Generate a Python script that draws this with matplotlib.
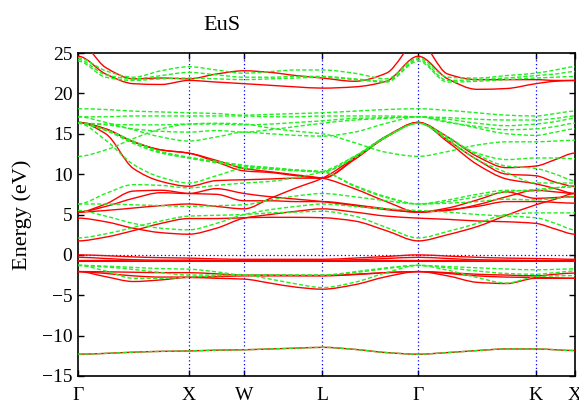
import numpy as np
import matplotlib
matplotlib.use("Agg")
import matplotlib.pyplot as plt
from matplotlib.path import Path
from matplotlib.patches import PathPatch

# High-symmetry path of the fcc Brillouin zone, distances in units of 2*pi/a
sym_labels = ["Γ", "X", "W", "L", "Γ", "K", "X"]
sym_k = [0.0, 1.0, 1.5, 2.207, 3.073, 4.134, 4.488]

# k-points at which the bands are tabulated
k = [0.0, 0.25, 0.5, 0.75, 1.0, 1.25, 1.5, 1.736, 1.971, 2.207,
     2.496, 2.784, 3.073, 3.338, 3.604, 3.869, 4.134, 4.311, 4.488]

# Spin-up bands (eV)
up_s = [-12.3, -12.2, -12.05, -11.95, -11.9, -11.8, -11.75, -11.65, -11.55, -11.45,
        -11.7, -12.1, -12.3, -12.1, -11.85, -11.65, -11.65, -11.75, -11.85]
up_p1 = [-2.07, -2.1, -2.15, -2.2, -2.2, -2.35, -2.5, -2.5, -2.55, -2.55,
         -2.4, -2.2, -2.07, -2.2, -2.4, -2.5, -2.6, -2.4, -2.25]
up_p2 = [-2.07, -2.3, -2.6, -2.75, -2.75, -2.7, -2.6, -2.6, -2.6, -2.6,
         -2.45, -2.2, -2.07, -2.3, -2.6, -2.75, -2.8, -2.85, -2.9]
up_p3 = [-2.07, -2.7, -3.3, -3.1, -2.8, -2.9, -3.0, -3.5, -4.0, -4.25,
         -3.7, -2.7, -2.07, -2.6, -3.4, -3.55, -2.9, -2.9, -2.9]
up_f1 = [0.0, -0.1, -0.25, -0.35, -0.4, -0.5, -0.55, -0.55, -0.55, -0.55,
         -0.4, -0.2, 0.0, -0.15, -0.3, -0.4, -0.45, -0.5, -0.55]
up_f2 = [-0.3, -0.45, -0.6, -0.65, -0.65, -0.7, -0.7, -0.7, -0.7, -0.7,
         -0.6, -0.45, -0.3, -0.45, -0.6, -0.65, -0.7, -0.7, -0.7]
up_f3 = [-0.7, -0.7, -0.75, -0.75, -0.75, -0.75, -0.75, -0.75, -0.75, -0.75,
         -0.75, -0.7, -0.7, -0.7, -0.75, -0.75, -0.75, -0.75, -0.75]
up_f4 = [-0.8, -0.8, -0.8, -0.8, -0.8, -0.8, -0.8, -0.8, -0.8, -0.8,
         -0.8, -0.8, -0.8, -0.8, -0.8, -0.8, -0.8, -0.8, -0.8]
up_c1 = [1.73, 2.2, 3.0, 3.9, 4.5, 4.5, 4.6, 4.65, 4.65, 4.6,
         4.2, 3.0, 1.73, 2.5, 3.5, 4.9, 6.2, 6.9, 7.6]
up_c2 = [4.55, 4.1, 3.3, 2.75, 2.56, 3.3, 4.55, 5.0, 5.4, 5.7,
         5.3, 4.8, 4.55, 4.4, 4.2, 4.1, 3.9, 3.2, 2.56]
up_c3 = [5.3, 5.5, 5.8, 6.1, 6.3, 6.0, 5.7, 7.0, 8.3, 9.5,
         12.0, 14.6, 16.4, 14.0, 11.2, 9.4, 8.8, 8.2, 7.6]
up_c4 = [5.3, 6.3, 7.9, 8.0, 7.6, 7.5, 6.7, 6.7, 6.6, 6.6,
         6.2, 5.7, 5.3, 5.6, 6.0, 6.6, 6.6, 6.5, 6.4]
up_c5 = [5.3, 6.0, 7.0, 7.7, 7.6, 8.2, 7.6, 7.2, 6.9, 6.6,
         6.1, 5.6, 5.3, 5.8, 6.8, 7.8, 7.0, 7.1, 7.2]
up_c6 = [16.4, 15.0, 10.7, 9.1, 8.5, 9.2, 9.3, 9.4, 9.5, 9.5,
         11.8, 14.6, 16.4, 14.2, 11.8, 10.0, 9.8, 9.0, 8.5]
up_c7 = [16.4, 15.6, 14.0, 13.0, 12.6, 11.7, 10.7, 10.3, 9.9, 9.5,
         8.2, 6.6, 5.3, 5.5, 6.2, 7.2, 8.0, 7.8, 7.6]
up_c8 = [16.4, 15.6, 14.0, 13.0, 12.6, 11.5, 10.4, 10.2, 9.8, 9.5,
         11.9, 14.7, 16.4, 14.6, 12.2, 10.8, 11.0, 11.8, 12.6]
up_u1 = [24.6, 22.4, 21.2, 21.1, 21.6, 21.4, 21.2, 21.0, 20.8, 20.65,
         20.8, 21.5, 24.6, 21.8, 20.5, 20.6, 21.2, 21.5, 21.6]
up_u2 = [26.5, 23.2, 21.8, 21.9, 21.8, 22.4, 22.8, 22.6, 22.2, 21.9,
         21.5, 22.5, 26.5, 22.4, 21.7, 21.7, 21.7, 21.6, 21.6]

# Spin-down bands (eV)
dn_s = [-12.3, -12.2, -12.05, -11.95, -11.9, -11.8, -11.75, -11.65, -11.55, -11.45,
        -11.7, -12.1, -12.3, -12.1, -11.85, -11.65, -11.65, -11.75, -11.85]
dn_p1 = [-1.3, -1.4, -1.55, -1.7, -1.77, -2.1, -2.5, -2.5, -2.5, -2.5,
         -2.1, -1.6, -1.3, -1.45, -1.6, -1.75, -1.85, -1.8, -1.73]
dn_p2 = [-1.3, -2.0, -2.9, -2.9, -2.76, -2.6, -2.5, -3.0, -3.6, -4.05,
         -3.4, -2.2, -1.3, -1.9, -2.8, -3.5, -2.7, -2.6, -2.56]
dn_p3 = [-1.3, -1.5, -1.8, -2.2, -2.5, -2.5, -2.5, -2.5, -2.5, -2.5,
         -2.2, -1.7, -1.3, -1.6, -2.0, -2.3, -2.4, -2.2, -2.0]
dn_c1 = [2.1, 2.6, 3.4, 4.2, 4.8, 4.9, 5.0, 5.2, 5.3, 5.4,
         4.8, 3.4, 2.1, 2.9, 3.9, 5.0, 5.2, 5.2, 5.2]
dn_c2 = [5.5, 4.8, 3.9, 3.3, 3.1, 3.9, 5.0, 5.6, 6.0, 6.3,
         6.0, 5.7, 5.5, 5.3, 5.0, 4.8, 4.6, 3.9, 3.1]
dn_c3 = [6.3, 6.3, 6.2, 6.1, 6.0, 6.1, 6.2, 6.8, 7.3, 7.6,
         7.2, 6.7, 6.3, 6.6, 7.2, 7.8, 8.1, 8.3, 8.4]
dn_c4 = [6.3, 7.6, 8.7, 8.6, 8.3, 8.6, 8.9, 9.1, 9.6, 10.3,
         12.2, 14.6, 16.3, 14.2, 11.8, 10.2, 8.9, 8.9, 8.9]
dn_c5 = [16.3, 14.2, 11.2, 9.6, 8.9, 9.8, 10.7, 10.6, 10.4, 10.3,
         12.0, 14.6, 16.3, 14.6, 12.4, 11.0, 10.7, 10.0, 9.2]
dn_c6 = [16.3, 15.4, 13.8, 12.6, 12.0, 11.5, 11.0, 10.8, 10.5, 10.3,
         8.6, 7.2, 6.3, 6.4, 6.6, 6.9, 6.8, 7.0, 7.2]
dn_c7 = [16.3, 15.5, 14.0, 12.7, 12.0, 11.4, 10.9, 10.7, 10.5, 10.3,
         8.5, 7.1, 6.3, 6.8, 7.5, 8.0, 7.9, 8.3, 8.6]
dn_c8 = [16.3, 15.5, 14.1, 12.8, 12.1, 11.6, 11.1, 10.8, 10.5, 10.3,
         12.2, 14.7, 16.3, 14.4, 12.6, 11.8, 12.0, 12.0, 11.9]
dn_m1 = [12.2, 13.0, 14.4, 15.6, 16.2, 16.3, 16.2, 15.7, 15.3, 15.0,
         13.9, 12.7, 12.2, 12.8, 13.6, 14.0, 14.0, 14.1, 14.2]
dn_m2 = [18.1, 18.0, 17.8, 17.7, 17.6, 17.5, 17.3, 17.4, 17.5, 17.6,
         17.8, 18.0, 18.1, 17.9, 17.6, 17.3, 17.2, 17.5, 17.8]
dn_m3 = [17.1, 17.1, 17.2, 17.2, 17.2, 17.2, 17.2, 17.1, 17.1, 17.2,
         17.2, 17.2, 17.1, 17.0, 16.8, 16.7, 16.7, 16.9, 17.2]
dn_m4 = [17.1, 16.4, 15.5, 14.6, 14.1, 14.6, 15.2, 15.0, 14.8, 14.7,
         15.2, 16.3, 17.1, 16.5, 15.7, 15.0, 14.8, 15.2, 15.6]
dn_m5 = [16.3, 16.2, 16.1, 16.1, 16.2, 16.2, 16.1, 16.2, 16.4, 16.6,
         16.9, 17.0, 17.1, 16.8, 16.3, 16.0, 16.2, 16.5, 16.9]
dn_m6 = [16.3, 16.1, 15.6, 15.3, 15.2, 15.4, 15.2, 15.5, 15.9, 16.3,
         16.7, 16.9, 17.1, 16.4, 15.9, 15.5, 15.6, 15.9, 16.3]
dn_u1 = [24.4, 22.8, 22.0, 22.8, 23.3, 22.9, 22.5, 22.7, 22.9, 22.9,
         22.5, 21.8, 24.4, 22.0, 21.9, 22.2, 22.5, 22.9, 23.3]
dn_u2 = [24.2, 22.3, 21.8, 22.2, 22.6, 22.3, 22.0, 22.0, 22.1, 22.1,
         21.8, 21.5, 24.2, 21.6, 21.7, 21.9, 22.2, 22.4, 22.7]
dn_u3 = [24.0, 22.0, 21.6, 21.8, 21.9, 21.8, 21.7, 21.8, 21.9, 22.0,
         21.7, 21.4, 24.0, 21.4, 21.5, 21.7, 21.9, 22.0, 22.1]

bands_up = [up_s, up_p1, up_p2, up_p3, up_f1, up_f2, up_f3, up_f4,
            up_c1, up_c2, up_c3, up_c4, up_c5, up_c6, up_c7, up_c8,
            up_u1, up_u2]
bands_dn = [dn_s, dn_p1, dn_p2, dn_p3, dn_c1, dn_c2, dn_c3, dn_c4,
            dn_c5, dn_c6, dn_c7, dn_c8, dn_m1, dn_m2, dn_m3, dn_m4,
            dn_m5, dn_m6, dn_u1, dn_u2, dn_u3]


def band_path(x, y):
    """Smooth Bezier path through the tabulated band energies (monotone tangents)."""
    x = np.asarray(x, float)
    y = np.asarray(y, float)
    h = np.diff(x)
    d = np.diff(y) / h
    m = np.zeros_like(y)
    for i in range(1, len(y) - 1):
        if d[i - 1] * d[i] > 0:
            w1 = 2 * h[i] + h[i - 1]
            w2 = h[i] + 2 * h[i - 1]
            m[i] = (w1 + w2) / (w1 / d[i - 1] + w2 / d[i])
    verts = [(x[0], y[0])]
    codes = [Path.MOVETO]
    for i in range(len(y) - 1):
        verts += [(x[i] + h[i] / 3, y[i] + m[i] * h[i] / 3),
                  (x[i + 1] - h[i] / 3, y[i + 1] - m[i + 1] * h[i] / 3),
                  (x[i + 1], y[i + 1])]
        codes += [Path.CURVE4] * 3
    return Path(verts, codes)


serif = ["Liberation Serif", "DejaVu Serif"]
plt.rcParams["font.family"] = serif

fig = plt.figure(figsize=(5.79, 4.00), dpi=100)
ax = fig.add_axes([0.1347, 0.06, 0.8584, 0.8075])

for band in bands_up:
    ax.add_patch(PathPatch(band_path(k, band), fill=False, edgecolor="#ff0000",
                           lw=1.0, zorder=3))
for band in bands_dn:
    ax.add_patch(PathPatch(band_path(k, band), fill=False, edgecolor="#22ee22",
                           lw=1.0, linestyle=(0, (3.0, 1.6)), zorder=4))

# vertical guides at the high-symmetry points and the Fermi level
for xk in sym_k[1:]:
    ax.axvline(xk, color="#0000ff", lw=0.9, linestyle=(0, (1, 2)), zorder=2)
ax.axhline(0.0, color="#0000ff", lw=0.9, linestyle=(0, (1, 2)), zorder=2)

ax.set_xlim(sym_k[0], sym_k[-1])
ax.set_ylim(-15, 25)
ax.set_yticks(range(-15, 26, 5))
ax.set_xticks(sym_k)
ax.set_xticklabels(sym_labels)
ax.tick_params(axis="both", direction="in", labelsize=14, length=4, width=1,
               top=True, right=True)
ax.tick_params(axis="x", pad=8)
ax.tick_params(axis="y", pad=4)
for s in ax.spines.values():
    s.set_linewidth(1.2)

ax.set_ylabel("Energy (eV)", fontsize=16)
ax.yaxis.set_label_coords(-0.1127, 0.5)
ax.yaxis.label.set_verticalalignment("center")
fig.text(0.383, 0.9375, "EuS", ha="center", va="center", fontsize=16)

fig.savefig("out.png", dpi=100)
